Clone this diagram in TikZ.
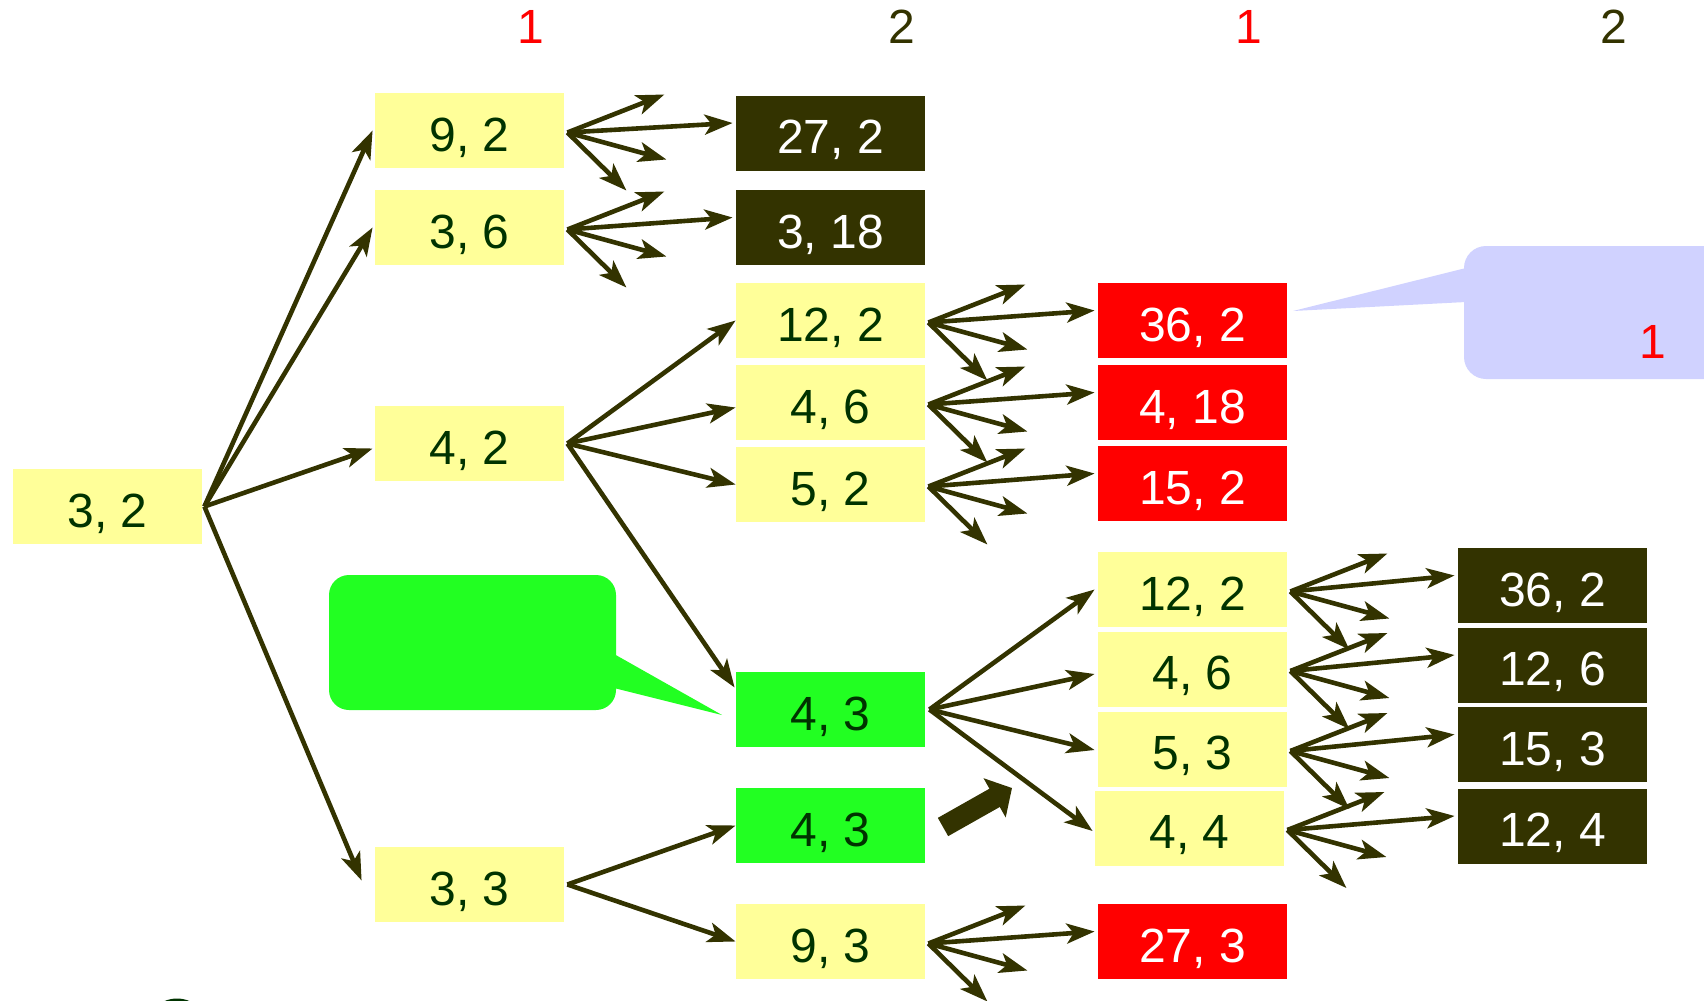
\documentclass[tikz,border=0pt]{standalone}
\usepackage{fontspec}
\setmainfont{Liberation Sans}
\usetikzlibrary{arrows.meta,calc}
\definecolor{darkolive}{HTML}{333300}
\definecolor{leafgreen}{HTML}{003300}
\definecolor{paleyellow}{HTML}{FFFF99}
\definecolor{limegreen}{HTML}{22FF22}
\definecolor{callblue}{HTML}{D0D2FF}
\tikzset{
  num/.style={minimum width=94.5pt, minimum height=37.5pt, inner sep=0pt, text height=20.7pt, text depth=0pt, font=\fontsize{24}{28}\selectfont},
  open/.style={num, fill=paleyellow, text=leafgreen},
  done/.style={num, fill=darkolive, text=white},
  hit/.style={num, fill=red, text=white},
  same/.style={num, fill=limegreen, text=leafgreen},
  head/.style={font=\fontsize{24}{28}\selectfont},
  edge/.style={darkolive, line width=2.3pt, -{Stealth[length=14pt,width=10pt,inset=3.5pt]}},
}
% one node and its four children: three loose arrows and one into the next box
\newcommand{\fan}[2]{%
  \coordinate (#1-o) at ([shift={(3,2)}]#1.east);
  \coordinate (#1-a) at ($(#1-o)+(97,-38)$);
  \coordinate (#1-b) at ($(#1-o)+(99,27)$);
  \coordinate (#1-c) at ($(#1-o)+(59,58)$);
  \draw[edge] (#1-o) -- (#1-a);
  \draw[edge] (#1-o) -- ([shift={(-3,-10)}]#2.west);
  \draw[edge] (#1-o) -- (#1-b);
  \draw[edge] (#1-o) -- (#1-c);
}
\begin{document}
\begin{tikzpicture}[x=0.5pt, y=-0.5pt]
  \useasboundingbox (0,0) rectangle (1704,1001);
  % column heads
  \node[head, red] (h1) at (531,27) {1};
  \node[head, darkolive] (h2) at (902,27) {2};
  \node[head, red] (h3) at (1249,27) {1};
  \node[head, darkolive] (h4) at (1614,27) {2};
  % callouts
  \fill[limegreen, rounded corners=10pt] (329,575) rectangle (616,710);
  \fill[limegreen] (614,654) -- (722,715) -- (614,688) -- cycle;
  \fill[callblue, rounded corners=11pt] (1464,246) rectangle (1780,379);
  \fill[callblue] (1466,268) -- (1293,311) -- (1466,302) -- cycle;
  \node[head, red] (note) at (1653,342) {1};
  % tree
  \node[open] (n32) at (107.5,506.5) {3, 2};
  \node[open] (n92) at (469.5,130.5) {9, 2};
  \node[open] (n36) at (469.5,227.5) {3, 6};
  \node[open] (n42) at (469.5,443.5) {4, 2};
  \node[open] (n33) at (469.5,884.5) {3, 3};
  \node[done] (d272) at (830.5,133) {27, 2};
  \node[done] (d318) at (830.5,227.5) {3, 18};
  \node[open] (a122) at (830.5,320.5) {12, 2};
  \node[open] (a46) at (830.5,402.5) {4, 6};
  \node[open] (a52) at (830.5,484.5) {5, 2};
  \node[same] (g43a) at (830.5,709.5) {4, 3};
  \node[same] (g43b) at (830.5,825.5) {4, 3};
  \node[open] (a93) at (830.5,941.5) {9, 3};
  \node[hit] (r362) at (1192.5,320.5) {36, 2};
  \node[hit] (r418) at (1192.5,402.5) {4, 18};
  \node[hit] (r152) at (1192.5,483.5) {15, 2};
  \node[open] (b122) at (1192.5,589.5) {12, 2};
  \node[open] (b46) at (1192.5,669) {4, 6};
  \node[open] (b53) at (1192.5,749) {5, 3};
  \node[open] (b44) at (1189.5,828) {4, 4};
  \node[hit] (r273) at (1192.5,941.5) {27, 3};
  \node[done] (k362) at (1552.5,585.5) {36, 2};
  \node[done] (k126) at (1552.5,665) {12, 6};
  \node[done] (k153) at (1552.5,744.5) {15, 3};
  \node[done] (k124) at (1552.5,826) {12, 4};
  \draw[edge] ([xshift=1pt]n32.east) -- ([xshift=-1pt]n92.west);
  \draw[edge] ([xshift=1pt]n32.east) -- ([xshift=-1pt]n36.west);
  \draw[edge] ([xshift=1pt]n32.east) -- ([shift={(-2,5)}]n42.west);
  \draw[edge] ([xshift=1pt]n32.east) -- ([shift={(-13,-4)}]n33.west);
  \draw[edge] ([xshift=1.5pt]n42.east) -- (a122.west);
  \draw[edge] ([xshift=1.5pt]n42.east) -- ([yshift=-2.5pt]a46.west);
  \draw[edge] ([xshift=1.5pt]n42.east) -- (a52.west);
  \draw[edge] ([xshift=1.5pt]n42.east) -- ([shift={(-1,-22)}]g43a.west);
  \draw[edge] ([xshift=2pt]g43a.east) -- ([xshift=-1.5pt]b122.west);
  \draw[edge] ([xshift=2pt]g43a.east) -- ([shift={(-3,5)}]b46.west);
  \draw[edge] ([xshift=2pt]g43a.east) -- ([shift={(-3,1)}]b53.west);
  \draw[edge] ([xshift=2pt]g43a.east) -- ([shift={(-2,3)}]b44.west);
  \draw[edge] ([xshift=1.5pt]n33.east) -- (g43b.west);
  \draw[edge] ([xshift=1.5pt]n33.east) -- (a93.west);
  \fan{n92}{d272}
  \fan{n36}{d318}
  \fan{a122}{r362}
  \fan{a46}{r418}
  \fan{a52}{r152}
  \fan{a93}{r273}
  \fan{b122}{k362}
  \fan{b46}{k126}
  \fan{b53}{k153}
  \fan{b44}{k124}
  % pointer to the repeated node
  \coordinate (push-s) at (943,827);
  \coordinate (push-e) at (1012,788);
  \draw[darkolive, line width=10.5pt, -{Triangle[length=10pt,width=22pt]}] (push-s) -- (push-e);
  % edge of a shape cut off below
  \draw[leafgreen, line width=1.5pt] (177,1030) circle [radius=15pt];
\end{tikzpicture}
\end{document}
